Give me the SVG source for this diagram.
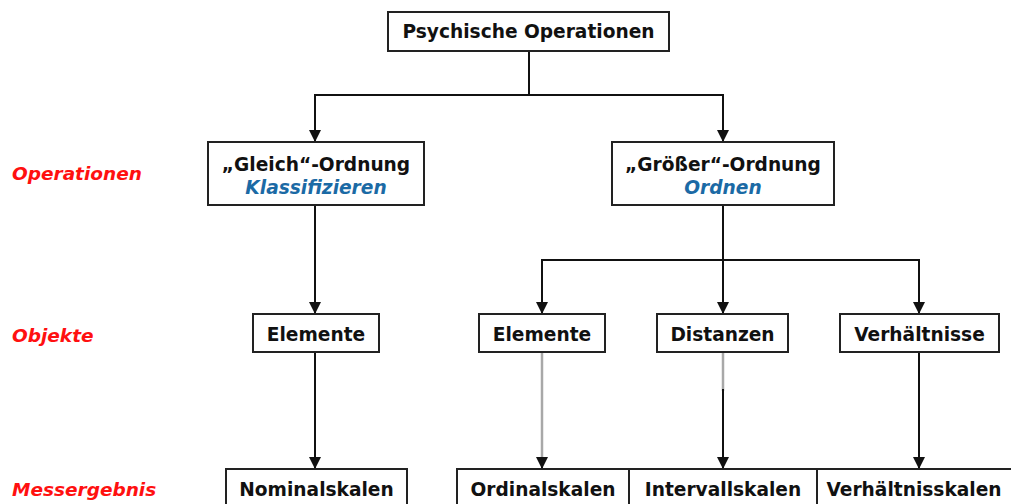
<svg xmlns="http://www.w3.org/2000/svg" width="1011" height="504" viewBox="0 0 1011 504">
<defs>
<marker id="arr" markerWidth="12" markerHeight="12" viewBox="0 0 12 12" refX="12" refY="6" orient="auto" markerUnits="userSpaceOnUse">
<path d="M0,0 L12,6 L0,12 Z" fill="#111"/>
</marker>
<style>
.box{fill:#fff;stroke:#222;stroke-width:2}
.t{font-family:"DejaVu Sans",Verdana,sans-serif;font-weight:bold;font-size:18.6px;fill:#111;text-anchor:middle}
.b{font-family:"DejaVu Sans",Verdana,sans-serif;font-weight:bold;font-style:italic;font-size:18.6px;fill:#1b6aa5;text-anchor:middle}
.lab{font-family:"DejaVu Sans",Verdana,sans-serif;font-weight:bold;font-style:italic;font-size:18.5px;fill:#ff1010}
.c{fill:none;stroke:#111;stroke-width:2}
.g{fill:none;stroke:#a8a8a8;stroke-width:2.5}
</style>
</defs>
<rect width="1011" height="504" fill="#fff"/>
<g id="labels">
<text class="lab" x="12" y="180">Operationen</text>
<text class="lab" x="12" y="342">Objekte</text>
<text class="lab" x="12" y="496">Messergebnis</text>
</g>
<g id="connectors">
<polyline class="c" points="529,51 529,95"/>
<polyline class="c" points="723,95 315,95 315,142" marker-end="url(#arr)"/>
<polyline class="c" points="529,95 723,95 723,142" marker-end="url(#arr)"/>
<polyline class="c" points="315,205 315,314" marker-end="url(#arr)"/>
<polyline class="c" points="315,352 315,469" marker-end="url(#arr)"/>
<polyline class="c" points="723,205 723,314" marker-end="url(#arr)"/>
<polyline class="c" points="723,260 542,260 542,314" marker-end="url(#arr)"/>
<polyline class="c" points="723,260 919,260 919,314" marker-end="url(#arr)"/>
<line class="g" x1="542" y1="352" x2="542" y2="460"/>
<polyline class="c" points="542,459 542,469" marker-end="url(#arr)"/>
<line class="g" x1="723" y1="352" x2="723" y2="391"/>
<polyline class="c" points="723,389 723,469" marker-end="url(#arr)"/>
<polyline class="c" points="919,352 919,469" marker-end="url(#arr)"/>
</g>
<g id="n-psych">
<rect class="box" x="388" y="12" width="281" height="39"/>
<text class="t" x="528.5" y="38">Psychische Operationen</text>
</g>
<g id="n-gleich">
<rect class="box" x="208" y="142" width="216" height="63"/>
<text class="t" x="316" y="171">„Gleich“-Ordnung</text>
<text class="b" x="316" y="194">Klassifizieren</text>
</g>
<g id="n-groesser">
<rect class="box" x="612" y="142" width="222" height="63"/>
<text class="t" x="723" y="171">„Größer“-Ordnung</text>
<text class="b" x="723" y="194">Ordnen</text>
</g>
<g id="n-elemente1">
<rect class="box" x="253" y="314" width="126" height="38"/>
<text class="t" x="316" y="341">Elemente</text>
</g>
<g id="n-elemente2">
<rect class="box" x="479" y="314" width="126" height="38"/>
<text class="t" x="542" y="341">Elemente</text>
</g>
<g id="n-distanzen">
<rect class="box" x="657" y="314" width="131" height="38"/>
<text class="t" x="722.5" y="341">Distanzen</text>
</g>
<g id="n-verhaeltnisse">
<rect class="box" x="840" y="314" width="159" height="38"/>
<text class="t" x="919.5" y="341">Verhältnisse</text>
</g>
<g id="n-nominal">
<rect class="box" x="226" y="469" width="181" height="50"/>
<text class="t" x="316.5" y="496">Nominalskalen</text>
</g>
<g id="n-ordinal">
<rect class="box" x="457" y="469" width="172" height="50"/>
<text class="t" x="543" y="496">Ordinalskalen</text>
</g>
<g id="n-intervall">
<rect class="box" x="629" y="469" width="188" height="50"/>
<text class="t" x="723" y="496">Intervallskalen</text>
</g>
<g id="n-verhaeltnisskalen">
<rect class="box" x="817" y="469" width="210" height="50"/>
<text class="t" x="914" y="496">Verhältnisskalen</text>
</g>
</svg>
